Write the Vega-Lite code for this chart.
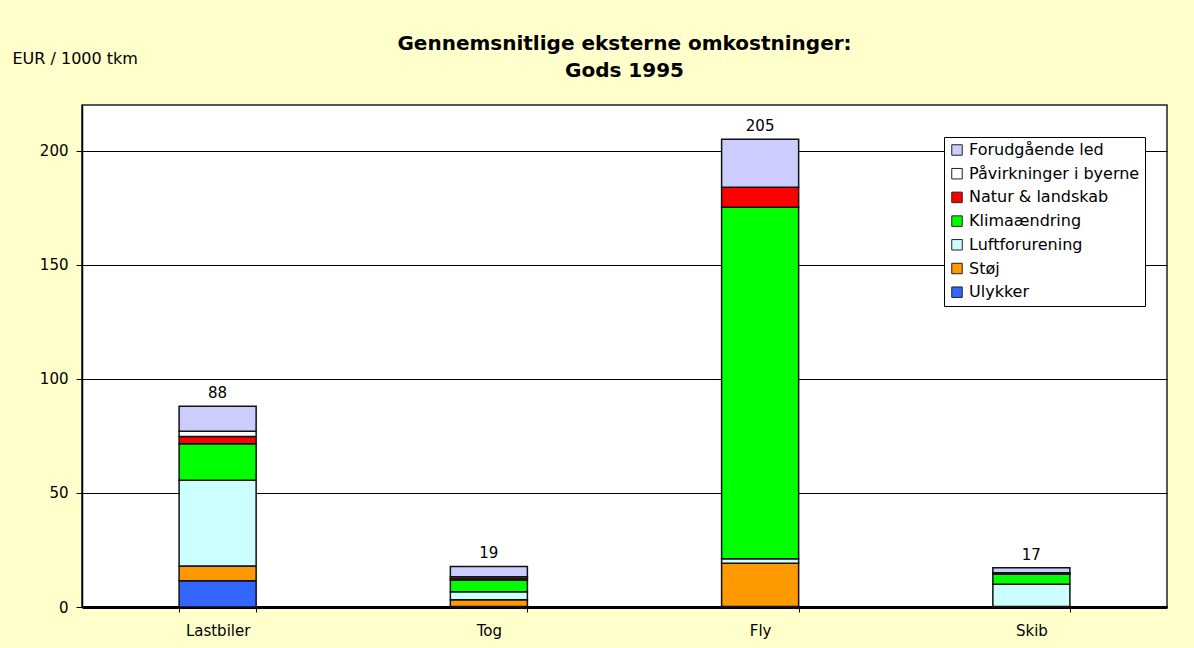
{
  "$schema": "https://vega.github.io/schema/vega-lite/v6.json",
  "autosize": "none",
  "width": 1085,
  "height": 502,
  "padding": {"left": 82, "top": 105, "right": 27, "bottom": 41},
  "background": "#FFFFCC",
  "title": {
    "text": ["Gennemsnitlige eksterne omkostninger:", "Gods 1995"],
    "font": "DejaVu Sans",
    "fontSize": 20,
    "fontWeight": "bold",
    "color": "black",
    "anchor": "middle",
    "offset": -31,
    "lineHeight": 27,
    "subtitle": ""
  },
  "config": {
    "view": {"fill": "white", "stroke": "#222222", "strokeWidth": 1.5},
    "font": "DejaVu Sans"
  },
  "datasets": {
    "costs": [
      {"mode": "Lastbiler", "cat": "Ulykker", "ord": 1, "value": 11.5},
      {"mode": "Lastbiler", "cat": "Støj", "ord": 2, "value": 6.5},
      {"mode": "Lastbiler", "cat": "Luftforurening", "ord": 3, "value": 37.5},
      {"mode": "Lastbiler", "cat": "Klimaændring", "ord": 4, "value": 16},
      {"mode": "Lastbiler", "cat": "Natur & landskab", "ord": 5, "value": 3.2},
      {"mode": "Lastbiler", "cat": "Påvirkninger i byerne", "ord": 6, "value": 2.3},
      {"mode": "Lastbiler", "cat": "Forudgående led", "ord": 7, "value": 11},
      {"mode": "Tog", "cat": "Ulykker", "ord": 1, "value": 0.2},
      {"mode": "Tog", "cat": "Støj", "ord": 2, "value": 3},
      {"mode": "Tog", "cat": "Luftforurening", "ord": 3, "value": 3.5},
      {"mode": "Tog", "cat": "Klimaændring", "ord": 4, "value": 5},
      {"mode": "Tog", "cat": "Natur & landskab", "ord": 5, "value": 0.8},
      {"mode": "Tog", "cat": "Påvirkninger i byerne", "ord": 6, "value": 0.8},
      {"mode": "Tog", "cat": "Forudgående led", "ord": 7, "value": 4.4},
      {"mode": "Fly", "cat": "Ulykker", "ord": 1, "value": 0.2},
      {"mode": "Fly", "cat": "Støj", "ord": 2, "value": 19},
      {"mode": "Fly", "cat": "Luftforurening", "ord": 3, "value": 2},
      {"mode": "Fly", "cat": "Klimaændring", "ord": 4, "value": 154},
      {"mode": "Fly", "cat": "Natur & landskab", "ord": 5, "value": 8.8},
      {"mode": "Fly", "cat": "Påvirkninger i byerne", "ord": 6, "value": 0},
      {"mode": "Fly", "cat": "Forudgående led", "ord": 7, "value": 21},
      {"mode": "Skib", "cat": "Ulykker", "ord": 1, "value": 0},
      {"mode": "Skib", "cat": "Støj", "ord": 2, "value": 0.2},
      {"mode": "Skib", "cat": "Luftforurening", "ord": 3, "value": 9.8},
      {"mode": "Skib", "cat": "Klimaændring", "ord": 4, "value": 4.4},
      {"mode": "Skib", "cat": "Natur & landskab", "ord": 5, "value": 0.3},
      {"mode": "Skib", "cat": "Påvirkninger i byerne", "ord": 6, "value": 0.3},
      {"mode": "Skib", "cat": "Forudgående led", "ord": 7, "value": 2.2}
    ],
    "totals": [
      {"mode": "Lastbiler", "total": 88.2, "label": "88"},
      {"mode": "Tog", "total": 17.8, "label": "19"},
      {"mode": "Fly", "total": 205, "label": "205"},
      {"mode": "Skib", "total": 17.2, "label": "17"}
    ]
  },
  "layer": [
    {
      "data": {"name": "costs"},
      "mark": {"type": "bar", "stroke": "#111111", "strokeWidth": 1.5},
      "encoding": {
        "x": {
          "field": "mode",
          "type": "nominal",
          "sort": ["Lastbiler", "Tog", "Fly", "Skib"],
          "scale": {"paddingInner": 0.716, "paddingOuter": 0.358},
          "axis": {
            "title": null,
            "labelAngle": 0,
            "labelFont": "DejaVu Sans",
            "labelFontSize": 15,
            "labelColor": "black",
            "labelPadding": 11,
            "domain": true,
            "domainColor": "black",
            "domainWidth": 3,
            "ticks": true,
            "tickBand": "extent",
            "tickColor": "black",
            "tickSize": 5,
            "grid": false
          }
        },
        "y": {
          "field": "value",
          "type": "quantitative",
          "stack": "zero",
          "scale": {"domain": [0, 220], "nice": false},
          "axis": {
            "title": "EUR / 1000 tkm",
            "titleAngle": 0,
            "titleAlign": "left",
            "titleBaseline": "middle",
            "titleX": -70,
            "titleY": -47,
            "titleFont": "DejaVu Sans",
            "titleFontSize": 16,
            "titleFontWeight": "normal",
            "titleColor": "black",
            "values": [0, 50, 100, 150, 200],
            "labelFont": "DejaVu Sans",
            "labelFontSize": 15,
            "labelColor": "black",
            "labelPadding": 8,
            "domain": true,
            "domainColor": "black",
            "domainWidth": 1.5,
            "tickColor": "black",
            "tickSize": 6,
            "grid": true,
            "gridColor": "black",
            "gridWidth": 1,
            "gridOpacity": 1
          }
        },
        "color": {
          "field": "cat",
          "type": "nominal",
          "scale": {
            "domain": ["Forudgående led", "Påvirkninger i byerne", "Natur & landskab", "Klimaændring", "Luftforurening", "Støj", "Ulykker"],
            "range": ["#CCCCFF", "#FFFFFF", "#FF0000", "#00FF00", "#CCFFFF", "#FF9900", "#3366FF"]
          },
          "legend": {
            "title": null,
            "orient": "none",
            "legendX": 862,
            "legendY": 32,
            "direction": "vertical",
            "fillColor": "white",
            "strokeColor": "black",
            "padding": 5,
            "symbolType": "square",
            "symbolSize": 110,
            "symbolStrokeColor": "#222222",
            "symbolStrokeWidth": 1,
            "labelFont": "DejaVu Sans",
            "labelFontSize": 16,
            "labelColor": "black",
            "labelOffset": 4,
            "rowPadding": 7.7,
            "labelLimit": 300
          }
        },
        "order": {"field": "ord", "type": "quantitative"}
      }
    },
    {
      "data": {"name": "totals"},
      "mark": {"type": "text", "dy": -13, "font": "DejaVu Sans", "fontSize": 15, "color": "black"},
      "encoding": {
        "x": {"field": "mode", "type": "nominal", "sort": ["Lastbiler", "Tog", "Fly", "Skib"]},
        "y": {"field": "total", "type": "quantitative"},
        "text": {"field": "label"}
      }
    }
  ]
}
